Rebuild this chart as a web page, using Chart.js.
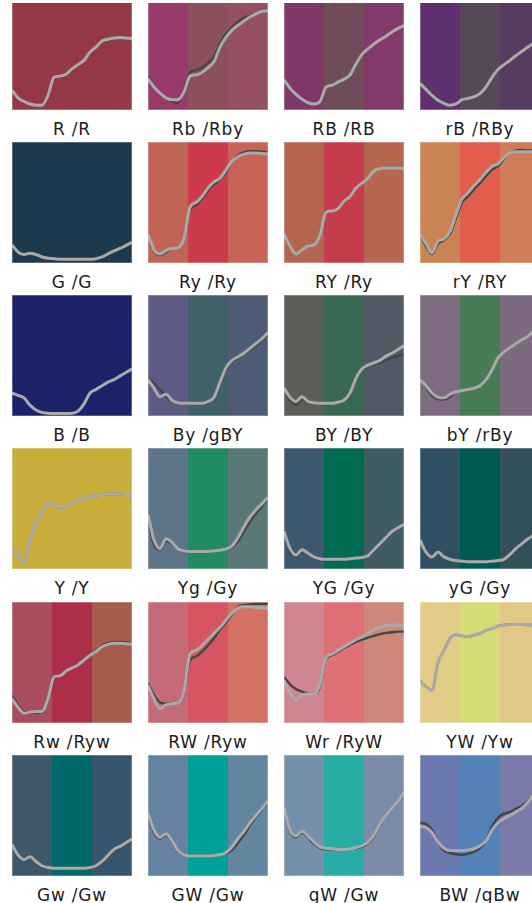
<!DOCTYPE html>
<html>
<head>
<meta charset="utf-8">
<script src="https://cdn.jsdelivr.net/npm/chart.js@4.4.1/dist/chart.umd.min.js"></script>
<style>
html, body { margin: 0; padding: 0; background: #fff; overflow: hidden; width: 532px; height: 903px; }
#grid { position: relative; width: 532px; height: 903px; overflow: hidden; }
.panel { position: absolute; width: 120px; height: 121px; }
.label { position: absolute; width: 136px; text-align: center; font-family: "DejaVu Sans", sans-serif;
         font-size: 17px; line-height: 20px; color: #1a1a1a; white-space: pre; letter-spacing: 0.8px; }
#topcut { position: absolute; left: 0; top: 0; width: 532px; height: 3px; background: #fff; z-index: 5; }
</style>
</head>
<body>
<div id="grid"><div id="topcut"></div></div>
<script>

// wavelength axis (nm) shared by every panel
const wavelengths = [400, 415, 430, 445, 460, 475, 490, 505, 520, 535, 550, 565, 580, 595, 610, 625, 640, 655, 670, 685, 700];
const bandEdges = [400, 500, 600, 700];

// reflectance, % of panel height -- light grey curve and dark curve
const gray_R  = [16.5, 10, 7, 5, 4, 4, 12, 27, 28, 29.5, 34, 37.5, 41, 48, 52, 57, 58.5, 59.5, 60, 59.5, 59];
const dark_R  = gray_R;
const gray_Rb = [26, 19, 14, 10, 8.5, 8.5, 15, 28, 29, 31, 35, 40, 52, 60, 66, 70, 73.5, 77, 79.5, 81.5, 82];
const dark_Rb = [28, 20, 14, 10, 7, 6, 17, 31, 33, 35, 39, 44, 55, 63, 68.5, 73, 76, 78, 79.5, 81, 82];
const gray_RB = [25, 18, 13, 9, 6, 5, 7, 19, 20.5, 23, 25.5, 29, 38, 46, 50.5, 54.5, 58, 61, 64.5, 67.5, 70];
const dark_RB = gray_RB;
const gray_rB = [22, 17, 12, 8, 5.5, 4, 5, 8.5, 9.5, 11, 13.5, 19, 27, 33.5, 37.5, 41, 45, 48.5, 52, 55.5, 59];
const dark_rB = [24, 19, 14, 10, 6.5, 4.5, 5, 8.5, 9.5, 11, 13.5, 19, 27, 33.5, 37.5, 41, 45, 48.5, 52, 55.5, 59];

const gray_G  = [15, 9, 7, 8, 7, 5, 4, 3.5, 3, 3, 3, 3, 3, 3, 3.5, 5, 7.5, 10, 12, 14.5, 17];
const dark_G  = gray_G;
const gray_Ry = [24, 11, 7.5, 10.5, 12, 12.5, 20, 46, 50, 55, 62, 67, 70, 77, 84, 88, 90, 91, 91, 90.5, 90];
const dark_Ry = [24, 10, 6.5, 9, 12, 12.5, 19, 44, 48, 53, 60, 65, 69, 75, 84, 89, 91.5, 92.5, 92.5, 92, 91.5];
const gray_RY = [24, 14, 7.5, 11, 14, 15, 23, 42, 43, 45, 51, 55, 62, 66, 70, 76, 78, 78.5, 78.5, 78.5, 78];
const dark_RY = gray_RY;
const gray_rY = [24, 16, 8.5, 18, 20, 26, 40, 53, 58, 64, 69, 75, 80, 82, 87, 91, 92, 92, 92, 92, 92];
const dark_rY = [24, 14, 7.5, 16, 19, 24, 37, 50, 55, 61, 66, 72, 77, 80, 86, 91, 93, 93.5, 93, 93, 93];

const gray_B  = [19, 17, 15, 9, 5, 3, 2.2, 2, 2, 2, 2.2, 4, 10, 19, 22, 25, 28, 30, 33, 36, 39];
const dark_B  = gray_B;
const gray_By = [30, 23, 16, 18, 13, 11, 10.5, 10.5, 10.5, 10.5, 12, 15.5, 28, 40, 46, 49, 52, 56, 60, 64, 69];
const dark_By = [31, 27, 22, 16, 13, 11.5, 10.5, 10, 10, 10, 11.5, 15, 27, 39, 45, 48, 51, 54.5, 58.5, 63, 68];
const gray_BY = [23, 15.5, 12, 16, 12, 11, 10.5, 10.5, 10.5, 11.5, 13, 19, 31, 39, 42, 44, 46, 49.5, 52, 55, 58];
const dark_BY = [22, 13, 9.5, 14, 11.5, 11, 10.5, 10.5, 10.5, 11.5, 13, 18, 30, 38, 41, 42.5, 44, 46, 48, 49.5, 51];
const gray_bY = [30, 25, 19, 15.5, 15, 18, 20, 21, 22, 23, 25, 30, 38, 48, 53, 56.5, 60, 63, 66, 70, 73];
const dark_bY = [30, 24, 17, 14, 13.5, 16, 19.5, 21, 22, 23, 25, 30, 38, 48, 53, 56.5, 60, 63, 66, 70, 73];

const gray_Y  = [17, 11, 6, 24, 38, 47, 54.5, 53, 51, 51.5, 55, 56.5, 58, 60, 61, 61.5, 62, 62, 62, 61.5, 60.5];
const dark_Y  = gray_Y;
const gray_Yg = [45, 24, 17, 25, 22, 16.5, 15, 14.5, 14.5, 14.5, 14.5, 15, 15.5, 16.5, 19, 26, 35, 43, 49, 54, 59];
const dark_Yg = [43, 20, 16, 23, 21, 16, 15, 14.5, 14.5, 14.5, 14.5, 15, 15.5, 16.5, 18, 23, 31, 39, 46, 52, 58];
const gray_YG = [31, 17, 11.5, 16, 13, 10, 8.5, 8, 8, 8, 8, 8.5, 9, 9.5, 11, 16, 21, 26, 31, 34, 37];
const dark_YG = [32, 15, 10.5, 15, 12.5, 10, 8.5, 8, 8, 8, 8, 8.5, 9, 9.5, 10.5, 14.5, 19.5, 25, 30, 33.5, 36.5];
const gray_yG = [24, 14, 10, 14, 10, 8, 7, 6.5, 6, 6, 6, 6, 6.5, 7, 8, 12, 17, 21, 25, 28, 31];
const dark_yG = [25, 13, 9, 13.5, 10, 8, 7, 6.5, 6, 6, 6, 6, 6.5, 7, 8, 12, 17, 21, 25, 28, 31];

const gray_Rw = [20, 13, 8, 9, 9.5, 9.5, 20, 38, 39, 43, 45.5, 48, 52, 56, 59, 63, 65, 66, 66, 65.5, 65];
const dark_Rw = [23, 15, 9, 8.5, 8.5, 9, 19, 37, 39, 43, 45.5, 48.5, 52.5, 56.5, 60, 64, 66, 67, 67, 66.5, 66];
const gray_RW = [31, 20, 12, 15, 16, 16.5, 26, 57, 60, 64, 69, 74, 79, 85, 91, 95, 96, 96, 95.5, 95, 95];
const dark_RW = [33, 23, 17, 16, 16, 16.5, 24, 52, 55, 59, 64, 70, 77, 83, 90, 96, 97.5, 98, 98.5, 98.5, 98.5];
const gray_Wr = [35, 25, 19, 23, 24, 24, 32, 54, 57, 60, 63, 66, 69, 71, 74, 77, 79, 80.5, 81, 81, 81];
const dark_Wr = [38, 32, 28, 26, 24.5, 24, 30, 53, 56, 59, 62, 64.5, 67, 69, 70.5, 72, 73.5, 74.5, 75, 75.5, 75.5];
const gray_YW = [35, 30, 27, 50, 60, 70, 73, 72, 71.5, 72.5, 74, 76.5, 78, 80, 81, 81.5, 81.5, 81.5, 81, 81, 81];
const dark_YW = gray_YW;

const gray_Gw = [26, 17.5, 13.5, 16, 12, 8.5, 7, 6.5, 6.5, 6.5, 6.5, 6.5, 6.5, 7, 8.5, 12, 17, 22, 24.5, 27.5, 30.5];
const dark_Gw = [26, 17, 13, 15.5, 11, 7.5, 6.5, 6, 6, 6, 6.5, 6.5, 6.5, 7, 8, 11, 16, 21, 23.5, 26.5, 29.5];
const gray_GW = [52, 38, 32, 35, 29, 21, 17.5, 16.5, 16.5, 16.5, 16.5, 17, 17.5, 19.5, 24, 31, 37, 44, 50, 56, 62];
const dark_GW = [51, 36, 31, 34, 28, 20.5, 17, 16.5, 16.5, 16.5, 16.5, 17, 17.5, 18.5, 21.5, 27.5, 34, 42, 48.5, 55, 61];
const gray_gW = [56, 38, 33, 37, 33, 28, 24, 23, 22.5, 22, 22, 22.5, 23.5, 25, 28, 34, 43, 50, 56, 62, 69];
const dark_gW = [55, 37, 32, 36, 32, 26.5, 23, 22, 22, 22, 22, 22.5, 23, 24, 27, 33, 42, 49.5, 55.5, 61.5, 68.5];
const gray_BW = [41, 40, 36, 28, 23, 21, 21, 21, 21.5, 22.5, 25, 29, 38, 44, 47.5, 50, 53, 56, 61, 68, 73];
const dark_BW = [44, 43, 38, 28, 21, 19, 18, 17.5, 18.5, 20, 23, 29, 41, 48, 51.5, 53, 55.5, 58, 62, 68, 73];

// panel titles, row by row
const titles = [
    "R /R",   "Rb /Rby", "RB /RB",   "rB /RBy",
    "G /G",   "Ry /Ry",  "RY /Ry",   "rY /RY",
    "B /B",   "By /gBY", "BY /BY",   "bY /rBy",
    "Y /Y",   "Yg /Gy",  "YG /Gy",   "yG /Gy",
    "Rw /Ryw", "RW /Ryw", "Wr /RyW", "YW /Yw",
    "Gw /Gw", "GW /Gw",  "gW /Gw",   "BW /gBw"
];

// three background bands per panel (short / middle / long wavelengths)
const bandColors = [
    ["#953846", "#953846", "#953846"], ["#983b6b", "#8b505a", "#945062"], ["#7f3868", "#6e4c5a", "#823a6c"], ["#5f2f70", "#564858", "#573c62"],
    ["#1c394d", "#1c394d", "#1c394d"], ["#c06556", "#cd3a4b", "#c76357"], ["#b5664f", "#c43d4b", "#b5674f"], ["#cc8354", "#e05e4b", "#cf7d58"],
    ["#1b226a", "#1b226a", "#1b226a"], ["#5d5a84", "#3f6268", "#4e5b75"], ["#5a5e56", "#366852", "#505a64"], ["#7d6b80", "#477c55", "#7b6a80"],
    ["#c9ae3d", "#c9ae3d", "#c9ae3d"], ["#5e7488", "#218b62", "#5b7878"], ["#3d576e", "#006b50", "#3f5b64"], ["#2f4f63", "#005a52", "#325059"],
    ["#a84d5c", "#ad2e48", "#a65b4c"], ["#c46b77", "#d65562", "#d27264"], ["#cf8690", "#de7175", "#cf877a"], ["#e2cc88", "#d6db78", "#e2c888"],
    ["#3e586a", "#00686a", "#35566e"], ["#6582a0", "#00a098", "#6286a0"], ["#7590aa", "#26aca5", "#7a8ca8"], ["#6a7ab0", "#5482b8", "#7a7aa8"]
];

const grayCurves = [gray_R, gray_Rb, gray_RB, gray_rB, gray_G, gray_Ry, gray_RY, gray_rY,
                    gray_B, gray_By, gray_BY, gray_bY, gray_Y, gray_Yg, gray_YG, gray_yG,
                    gray_Rw, gray_RW, gray_Wr, gray_YW, gray_Gw, gray_GW, gray_gW, gray_BW];
const darkCurves = [dark_R, dark_Rb, dark_RB, dark_rB, dark_G, dark_Ry, dark_RY, dark_rY,
                    dark_B, dark_By, dark_BY, dark_bY, dark_Y, dark_Yg, dark_YG, dark_yG,
                    dark_Rw, dark_RW, dark_Wr, dark_YW, dark_Gw, dark_GW, dark_gW, dark_BW];

// grid layout
const colLeft = [12, 148, 284, 420];
const rowTop = [-11, 142, 295, 448, 602, 755];
const panelW = 120, panelH = 121;


// ----------------- background bands plugin ------------------------------------

const bandPlugin = {
    id: 'bands',
    beforeDatasetsDraw(chart, args, opts) {
        const { ctx, chartArea, scales: { x } } = chart;
        ctx.save();
        for (let i = 0; i < 3; i++) {
            const x0 = Math.round(x.getPixelForValue(bandEdges[i]));
            const x1 = Math.round(x.getPixelForValue(bandEdges[i + 1]));
            ctx.fillStyle = opts.colors[i];
            ctx.fillRect(x0, chartArea.top, x1 - x0, chartArea.bottom - chartArea.top);
        }
        ctx.restore();
    },
    afterDraw(chart) {
        // faint light frame round each panel
        const { ctx, chartArea } = chart;
        ctx.save();
        ctx.strokeStyle = 'rgba(255,255,255,0.25)';
        ctx.lineWidth = 1;
        ctx.strokeRect(chartArea.left + 0.5, chartArea.top + 0.5,
                       chartArea.right - chartArea.left - 1, chartArea.bottom - chartArea.top - 1);
        ctx.restore();
    }
};

function toPoints(values) {
    return values.map((v, i) => ({ x: wavelengths[i], y: v }));
}


// ----------------- one little chart per panel ------------------------------------

const grid = document.getElementById('grid');

for (let k = 0; k < titles.length; k++) {
    const row = Math.floor(k / 4), col = k % 4;
    const left = colLeft[col], top = rowTop[row];

    const canvas = document.createElement('canvas');
    canvas.className = 'panel';
    canvas.width = panelW;
    canvas.height = panelH;
    canvas.style.left = left + 'px';
    canvas.style.top = top + 'px';
    grid.appendChild(canvas);

    const label = document.createElement('div');
    label.className = 'label';
    label.textContent = titles[k];
    label.style.left = (left - 8) + 'px';
    label.style.top = (top + panelH + 9) + 'px';
    grid.appendChild(label);

    new Chart(canvas.getContext('2d'), {
        type: 'line',
        data: {
            datasets: [{
                data: toPoints(grayCurves[k]),
                borderColor: '#aaaaaa',
                borderWidth: 3,
                order: 1
            }, {
                data: toPoints(darkCurves[k]),
                borderColor: '#454545',
                borderWidth: 2.4,
                order: 2
            }]
        },
        options: {
            responsive: false,
            animation: false,
            devicePixelRatio: 1,
            layout: { padding: 0 },
            elements: {
                point: { radius: 0 },
                line: { cubicInterpolationMode: 'monotone', borderCapStyle: 'butt', borderJoinStyle: 'round' }
            },
            scales: {
                x: { type: 'linear', min: 400, max: 700, display: false },
                y: { min: 0, max: 100, display: false }
            },
            plugins: {
                legend: { display: false },
                tooltip: { enabled: false },
                bands: { colors: bandColors[k] }
            }
        },
        plugins: [bandPlugin]
    });
}
</script>
</body>
</html>
